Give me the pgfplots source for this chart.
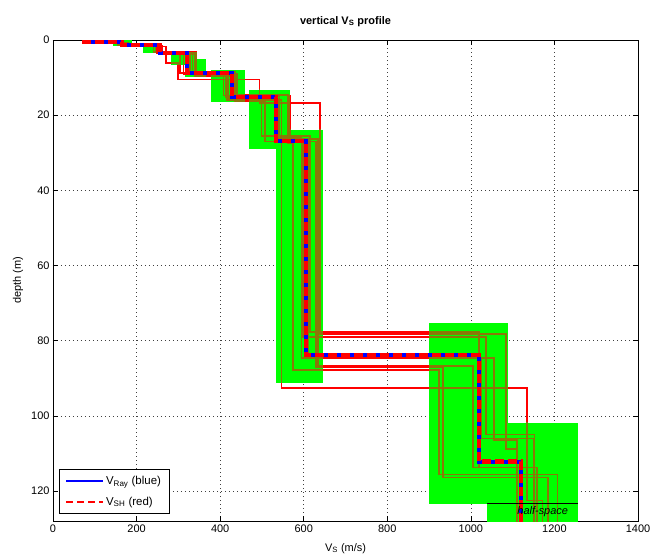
\documentclass[border=0pt]{standalone}
\usepackage{fontspec}
\setmainfont{Liberation Sans}
\usepackage{pgfplots}
\pgfplotsset{compat=1.18}
\definecolor{lgreen}{RGB}{0,255,0}
\definecolor{tred}{RGB}{255,0,0}
\definecolor{olivel}{RGB}{140,118,8}
\newcommand\thinprofiles[1]{%
\addplot[#1] coordinates {(80,0)(80,0.6)(170,0.6)(170,1.5)(248,1.5)(248,3.6)(312,3.6)(312,9.2)(415,9.2)(415,16.0)(547,16.0)(547,92.6)(1134,92.6)(1134,122.6)(1172,122.6)(1172,130)};
\addplot[#1] coordinates {(70,0)(70,0.4)(160,0.4)(160,1.2)(260,1.2)(260,3.2)(328,3.2)(328,8.4)(436,8.4)(436,14.6)(562,14.6)(562,27.4)(574,27.4)(574,87.8)(924,87.8)(924,115.7)(1208,115.7)(1208,130)};
\addplot[#1] coordinates {(78,0)(78,0.5)(155,0.5)(155,1.4)(252,1.4)(252,3.5)(334,3.5)(334,9.0)(440,9.0)(440,15.5)(538,15.5)(538,26.1)(595,26.1)(595,84.6)(1055,84.6)(1055,106.4)(1110,106.4)(1110,130)};
\addplot[#1] coordinates {(72,0)(72,0.5)(168,0.5)(168,1.3)(258,1.3)(258,3.3)(304,3.3)(304,8.8)(413,8.8)(413,15.2)(499,15.2)(499,25.5)(615,25.5)(615,77.7)(1019,77.7)(1019,113.8)(1158,113.8)(1158,130)};
\addplot[#1] coordinates {(85,0)(85,0.6)(175,0.6)(175,1.6)(262,1.6)(262,3.7)(340,3.7)(340,9.6)(435,9.6)(435,16.4)(507,16.4)(507,27.0)(629,27.0)(629,87.0)(933,87.0)(933,116.5)(1185,116.5)(1185,130)};
\addplot[#1] coordinates {(76,0)(76,0.4)(162,0.4)(162,1.2)(245,1.2)(245,3.0)(318,3.0)(318,8.6)(408,8.6)(408,14.8)(567,14.8)(567,26.3)(634,26.3)(634,86.7)(1005,86.7)(1005,113.8)(1158,113.8)(1158,130)};
\addplot[#1] coordinates {(90,0)(90,0.7)(180,0.7)(180,1.8)(270,1.8)(270,6.1)(299,6.1)(299,10.5)(494,10.5)(494,16.8)(639,16.8)(639,78.2)(1084,78.2)(1084,108.8)(1110,108.8)(1110,130)};
\addplot[#1] coordinates {(74,0)(74,0.5)(158,0.5)(158,1.4)(255,1.4)(255,3.4)(322,3.4)(322,9.0)(419,9.0)(419,15.5)(530,15.5)(530,27.2)(598,27.2)(598,79)(1036,79)(1036,105)(1153,105)(1153,130)};
\addplot[#1] coordinates {(82,0)(82,0.5)(166,0.5)(166,1.3)(240,1.3)(240,3.2)(344,3.2)(344,9.4)(425,9.4)(425,15.0)(542,15.0)(542,26.8)(610,26.8)(610,84.6)(1026,84.6)(1026,106)(1150,106)(1150,130)};
}
\newcommand\gboxes[1]{%
\addplot[#1] coordinates {(143.6,0) (189,0) (189,1.6) (143.6,1.6)} --cycle;
\addplot[#1] coordinates {(215,1.6) (246.5,1.6) (246.5,3.5) (215,3.5)} --cycle;
\addplot[#1] coordinates {(282,3.2) (344.6,3.2) (344.6,6.6) (282,6.6)} --cycle;
\addplot[#1] coordinates {(316,5.1) (366,5.1) (366,9.8) (316,9.8)} --cycle;
\addplot[#1] coordinates {(378,8.0) (459,8.0) (459,16.5) (378,16.5)} --cycle;
\addplot[#1] coordinates {(469,13.3) (567,13.3) (567,29.0) (469,29.0)} --cycle;
\addplot[#1] coordinates {(533.6,23.9) (646,23.9) (646,91.2) (533.6,91.2)} --cycle;
\addplot[#1] coordinates {(900,75.3) (1089,75.3) (1089,123.4) (900,123.4)} --cycle;
\addplot[#1] coordinates {(1038.5,101.9) (1256,101.9) (1256,130) (1038.5,130)} --cycle;
}
\pgfplotsset{boxax/.style={hide axis, x=0.417857bp, y=3.757813bp, y dir=reverse,
  anchor=south west, clip=true, enlargelimits=false}}
\newcommand\boxaxis[5]{%
\begin{axis}[boxax, at={(#1)}, xmin=#2, xmax=#3, ymin=#4, ymax=#5]
\thinprofiles{olivel, line width=1.4bp}
\end{axis}}
\begin{document}
\begin{tikzpicture}
\useasboundingbox (-53bp,-37bp) rectangle (597bp,521bp);
\pgfplotsset{mainax/.style={
  at={(0,0)}, anchor=south west, scale only axis,
  width=585bp, height=481bp,
  xmin=0, xmax=1400, ymin=0, ymax=128, y dir=reverse}}
\begin{axis}[
  mainax,
  xtick={0,200,...,1400}, ytick={0,20,...,120},
  grid=major, grid style={black!75, line width=0.5bp, dash pattern=on 1bp off 3bp},
  tick align=inside, major tick length=5bp,
  tick style={black, line width=0.5bp},
  axis line style={black, line width=0.6bp},
  /pgf/number format/assume math mode=true,
  /pgf/number format/1000 sep={},
  ticklabel style={font=\fontsize{11}{13}\selectfont},
  title={\textbf{vertical V\textsubscript{S} profile}},
  title style={at={(0.5,1)}, anchor=base, yshift=10bp, font=\fontsize{11}{13}\selectfont},
  xlabel={V\textsubscript{S} (m/s)},
  xlabel style={at={(0.5,0)}, anchor=base, yshift=-30bp, font=\fontsize{11}{13}\selectfont},
  ylabel={depth (m)},
  ylabel style={at={(axis description cs:-0.055,0.5)}, anchor=base, font=\fontsize{11}{13}\selectfont},
]
\gboxes{fill=lgreen, draw=none, forget plot}
\thinprofiles{tred, line width=1.4bp, forget plot}
\coordinate (b1) at (axis cs:143.6,1.6);
\coordinate (b2) at (axis cs:215,3.5);
\coordinate (b3) at (axis cs:282,6.6);
\coordinate (b4) at (axis cs:316,9.8);
\coordinate (b5) at (axis cs:378,16.5);
\coordinate (b6) at (axis cs:469,29.0);
\coordinate (b7) at (axis cs:533.6,91.2);
\coordinate (b8) at (axis cs:900,123.4);
\coordinate (b9) at (axis cs:1038.5,128);
\end{axis}
\boxaxis{b1}{143.6}{189}{0}{1.6}
\boxaxis{b2}{215}{246.5}{1.6}{3.5}
\boxaxis{b3}{282}{344.6}{3.2}{6.6}
\boxaxis{b4}{316}{366}{5.1}{9.8}
\boxaxis{b5}{378}{459}{8.0}{16.5}
\boxaxis{b6}{469}{567}{13.3}{29.0}
\boxaxis{b7}{533.6}{646}{23.9}{91.2}
\boxaxis{b8}{900}{1089}{75.3}{123.4}
\boxaxis{b9}{1038.5}{1256}{101.9}{128}
\begin{axis}[
  mainax, hide axis,
  legend style={at={(0.01,0.015)}, anchor=south west, draw=black, line width=0.5bp,
    font=\fontsize{11.5}{13}\selectfont, inner xsep=6bp, inner ysep=5bp, row sep=7bp,
    cells={anchor=west}},
  legend image code/.code={\draw[#1] (0bp,0bp) -- (37bp,0bp);},
]
\addplot[blue, line width=4bp, forget plot] coordinates {(75,0)(75,0.5)(165,0.5)(165,1.3)(255,1.3)(255,3.4)(320,3.4)(320,8.8)(428,8.8)(428,15.1)(534,15.1)(534,26.9)(605,26.9)(605,83.8)(1019,83.8)(1019,112.2)(1120,112.2)(1120,130)};
\addplot[tred, line width=4.3bp, dash pattern=on 9bp off 4bp, forget plot] coordinates {(75,0)(75,0.5)(165,0.5)(165,1.3)(255,1.3)(255,3.4)(320,3.4)(320,8.8)(428,8.8)(428,15.1)(534,15.1)(534,26.9)(605,26.9)(605,83.8)(1019,83.8)(1019,112.2)(1120,112.2)(1120,130)};
\addplot[black, line width=0.8bp, forget plot] coordinates {(1038.5,123.4)(1256,123.4)};
\node[font=\fontsize{11}{13}\selectfont\itshape] at (axis cs:1172,125.6) {half-space};
\addlegendimage{blue, line width=1.3bp}
\addlegendentry{V\textsubscript{Ray} (blue)}
\addlegendimage{tred, line width=2bp, dash pattern=on 7bp off 4bp}
\addlegendentry{V\textsubscript{SH} (red)}
\end{axis}
\end{tikzpicture}
\end{document}
